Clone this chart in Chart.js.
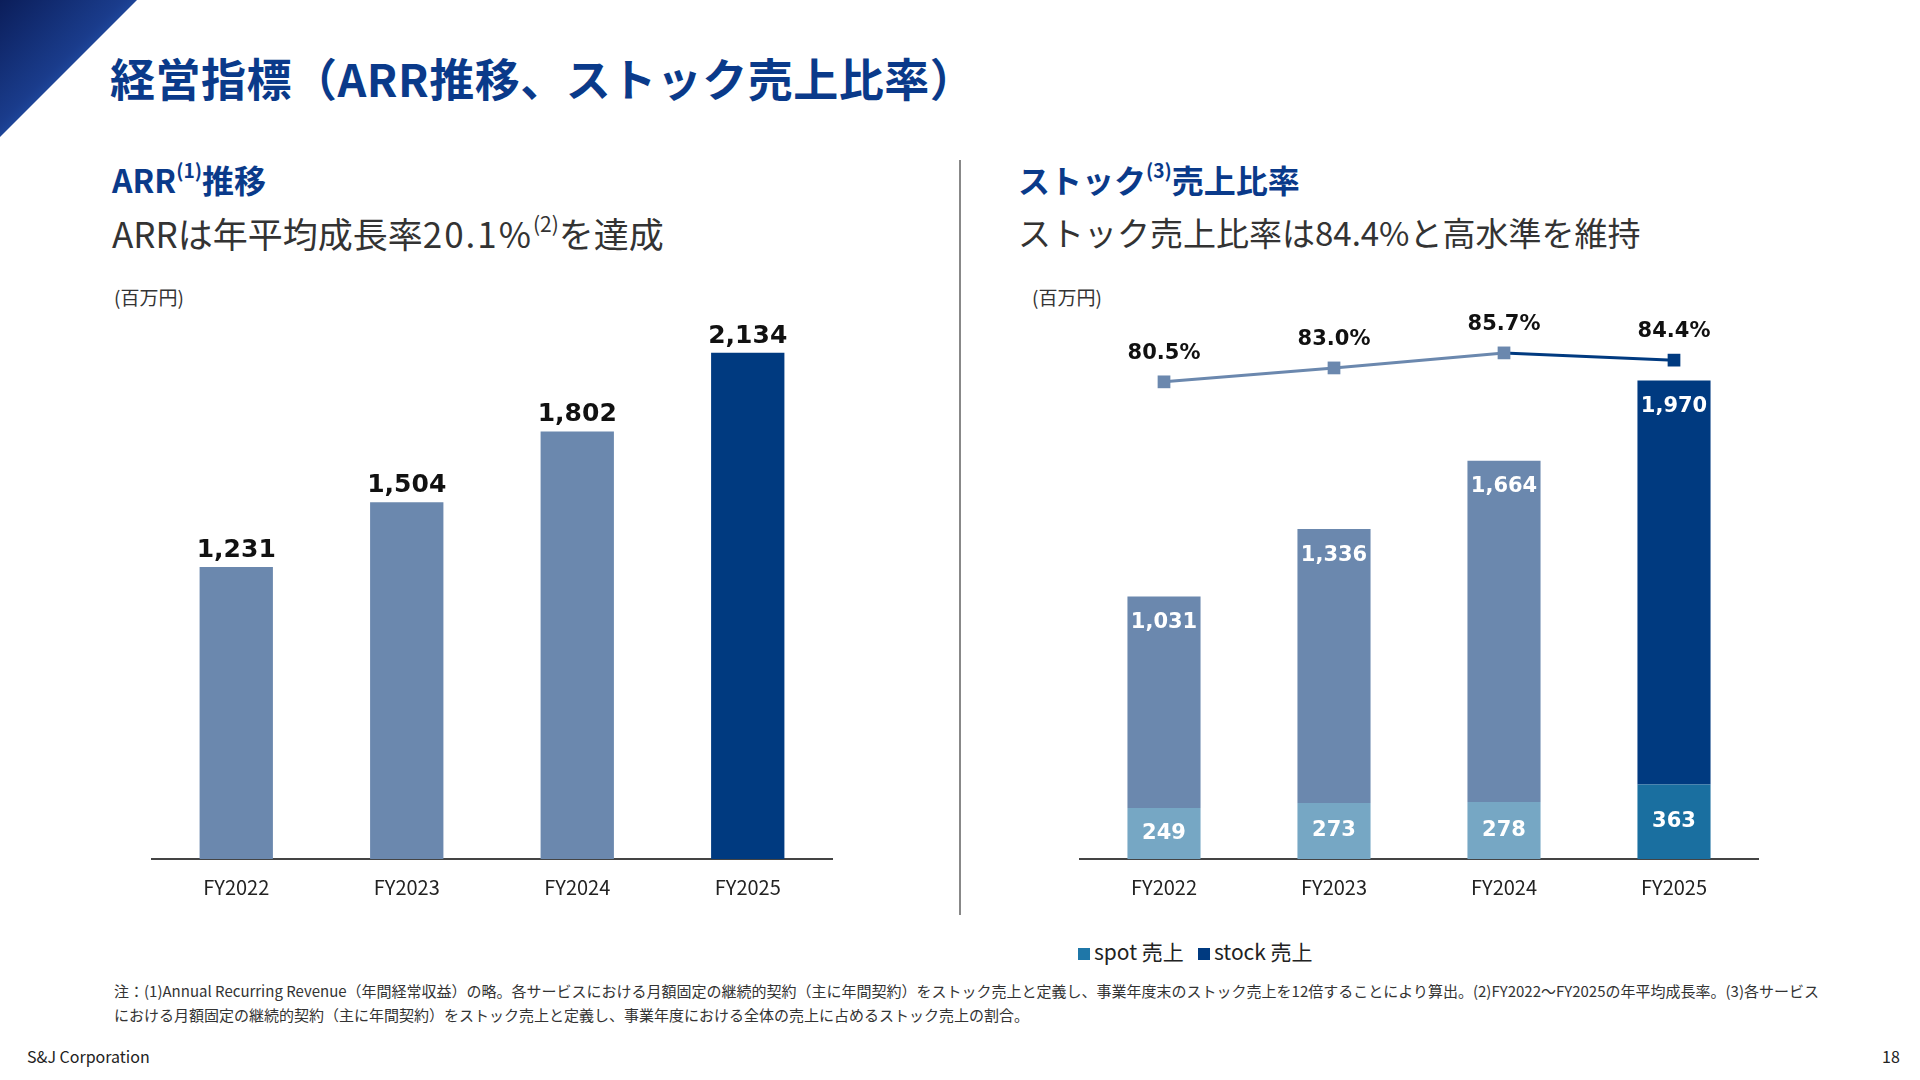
<!DOCTYPE html>
<html lang="ja">
<head>
<meta charset="UTF-8">
<title>経営指標</title>
<script src="https://cdn.jsdelivr.net/npm/chart.js"></script>
<style>
  body { margin:0; width:1920px; height:1080px; background:#fff; position:relative; overflow:hidden;
         font-family:"Noto Sans CJK JP","Noto Sans",sans-serif; color:#222; }
  .abs { position:absolute; white-space:nowrap; }
  .corner { left:0; top:0; width:137px; height:137px;
            background:linear-gradient(135deg,#0b1e5a 0%,#1a3c8c 45%,#2f6fd0 75%,#0a1a50 100%);
            clip-path:polygon(0 0,100% 0,0 100%); }
  .title { left:110px; top:45px; font-size:45px; font-weight:700; color:#0a3a8a; letter-spacing:0.5px; }
  .sub { font-size:32px; font-weight:700; color:#0a3a8a; }
  .lead { font-size:33px; color:#333; }
  .wide { letter-spacing:2px; }
  sup { font-size:60%; vertical-align:55%; }
  .unit { font-size:19px; color:#333; }
  .divider { left:959px; top:160px; width:2px; height:755px; background:#888; }
  .legend { left:1078px; top:936px; font-size:21px; color:#222; }
  .sq { display:inline-block; width:12px; height:12px; margin-right:4px; }
  .note { left:114px; top:979px; font-size:15px; color:#333; line-height:24px; }
</style>
</head>
<body>
<div class="abs corner"></div>
<div class="abs title">経営指標（ARR推移、ストック売上比率）</div>
<div class="abs sub" style="left:112px;top:156px;">ARR<sup>(1)</sup>推移</div>
<div class="abs lead" style="left:112px;top:207px;font-size:35px;">ARRは年平均成長率<span class="wide">20.1%</span><sup>(2)</sup>を達成</div>
<div class="abs unit" style="left:114px;top:283px;">(百万円)</div>
<div class="abs sub" style="left:1018px;top:156px;">ストック<sup>(3)</sup>売上比率</div>
<div class="abs lead" style="left:1018px;top:208px;">ストック売上比率は84.4%と高水準を維持</div>
<div class="abs unit" style="left:1032px;top:283px;">(百万円)</div>
<div class="abs divider"></div>

<div class="abs" style="left:151px;top:300px;width:682px;height:607px;"><canvas id="arr"></canvas></div>
<div class="abs" style="left:1079px;top:300px;width:680px;height:607px;"><canvas id="stock"></canvas></div>

<div class="abs legend"><span class="sq" style="background:#1f77a8"></span>spot 売上&nbsp;&nbsp;&nbsp;<span class="sq" style="background:#003a80"></span>stock 売上</div>
<div class="abs note">注：(1)Annual Recurring Revenue（年間経常収益）の略。各サービスにおける月額固定の継続的契約（主に年間契約）をストック売上と定義し、事業年度末のストック売上を12倍することにより算出。(2)FY2022～FY2025の年平均成長率。(3)各サービス<br>における月額固定の継続的契約（主に年間契約）をストック売上と定義し、事業年度における全体の売上に占めるストック売上の割合。</div>
<div class="abs" style="left:27px;top:1044px;font-size:16px;color:#222;">S&amp;J Corporation</div>
<div class="abs" style="left:1882px;top:1044px;font-size:16px;color:#222;">18</div>

<script>
const years = ['FY2022', 'FY2023', 'FY2024', 'FY2025'];
const arrValues = [1231, 1504, 1802, 2134];
const spotValues = [249, 273, 278, 363];
const stockValues = [1031, 1336, 1664, 1970];
const stockRatio = [80.5, 83.0, 85.7, 84.4];

const light = '#6b88ae', dark = '#003a80';
const spotLight = '#76a7c4', spotDark = '#1a6fa0';
const numFont = '"DejaVu Sans", Verdana, sans-serif';

const fmt = v => v.toLocaleString('en-US');

// draws value labels on bars / points
const labels = {
  id: 'labels',
  afterDatasetsDraw(chart) {
    const ctx = chart.ctx;
    ctx.save();
    ctx.textAlign = 'center';
    chart.data.datasets.forEach((ds, i) => {
      const meta = chart.getDatasetMeta(i);
      meta.data.forEach((el, j) => {
        const v = ds.data[j];
        if (ds.labelMode === 'top') {
          ctx.font = 'bold 25px ' + numFont; ctx.fillStyle = '#111'; ctx.textBaseline = 'bottom';
          ctx.fillText(fmt(v), el.x, el.y - 4);
        } else if (ds.labelMode === 'inside') {
          ctx.font = 'bold 21px ' + numFont; ctx.fillStyle = '#fff'; ctx.textBaseline = 'middle';
          ctx.fillText(fmt(v), el.x, el.y + 26);
        } else if (ds.labelMode === 'center') {
          ctx.font = 'bold 21px ' + numFont; ctx.fillStyle = '#fff'; ctx.textBaseline = 'middle';
          ctx.fillText(fmt(v), el.x, (el.y + el.base) / 2);
        } else if (ds.labelMode === 'pct') {
          ctx.font = 'bold 21px ' + numFont; ctx.fillStyle = '#111'; ctx.textBaseline = 'bottom';
          ctx.fillText(v.toFixed(1) + '%', el.x, el.y - 18);
        }
      });
    });
    ctx.restore();
  }
};

const xScale = {
  grid: { display: false },
  border: { display: true, color: '#444', width: 2 },
  ticks: { color: '#222', font: { size: 20, family: '"Noto Sans CJK JP", sans-serif' }, padding: 8 }
};

new Chart(document.getElementById('arr'), {
  type: 'bar',
  data: {
    labels: years,
    datasets: [{
      data: arrValues,
      backgroundColor: [light, light, light, dark],
      barPercentage: 0.43, categoryPercentage: 1,
      labelMode: 'top'
    }]
  },
  options: {
    responsive: true, maintainAspectRatio: false, animation: false,
    layout: { padding: 0, autoPadding: false },
    plugins: { legend: { display: false }, tooltip: { enabled: false } },
    scales: { x: xScale, y: { display: false, min: 0, max: 2356 } }
  },
  plugins: [labels]
});

new Chart(document.getElementById('stock'), {
  type: 'bar',
  data: {
    labels: years,
    datasets: [
      {
        type: 'line', data: stockRatio, yAxisID: 'y2', order: 0,
        borderColor: light, borderWidth: 3,
        segment: { borderColor: c => c.p1DataIndex === 3 ? dark : light },
        pointStyle: 'rect', pointRadius: 9,
        pointBackgroundColor: [light, light, light, dark], pointBorderWidth: 0,
        labelMode: 'pct'
      },
      {
        label: 'spot 売上', data: spotValues, stack: 's', order: 1,
        backgroundColor: [spotLight, spotLight, spotLight, spotDark],
        barPercentage: 0.43, categoryPercentage: 1, labelMode: 'center'
      },
      {
        label: 'stock 売上', data: stockValues, stack: 's', order: 1,
        backgroundColor: [light, light, light, dark],
        barPercentage: 0.43, categoryPercentage: 1, labelMode: 'inside'
      }
    ]
  },
  options: {
    responsive: true, maintainAspectRatio: false, animation: false,
    layout: { padding: 0, autoPadding: false },
    plugins: { legend: { display: false }, tooltip: { enabled: false } },
    scales: {
      x: xScale,
      y: { display: false, stacked: true, min: 0, max: 2726 },
      y2: { display: false, min: -5.2, max: 95.2 }
    }
  },
  plugins: [labels]
});
</script>
</body>
</html>
